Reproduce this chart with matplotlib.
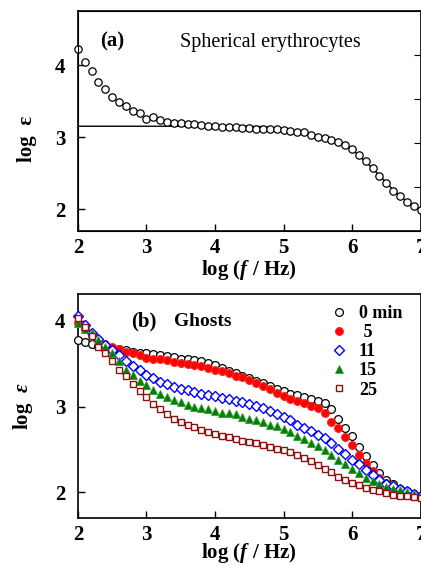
import numpy as np
import matplotlib
matplotlib.use("Agg")
import matplotlib.pyplot as plt

plt.rcParams['font.family'] = ['Liberation Serif', 'DejaVu Serif']
plt.rcParams['mathtext.fontset'] = 'custom'
plt.rcParams['mathtext.it'] = 'Liberation Serif:italic:bold'
plt.rcParams['mathtext.rm'] = 'Liberation Serif:bold'

# ---------- panel (a) data ----------
log_f_a = np.round(np.arange(2.0, 7.001, 0.1), 1)
eps_a = [4.23, 4.05, 3.92, 3.77, 3.67, 3.56, 3.49, 3.43, 3.37, 3.34,
         3.26, 3.28, 3.24, 3.21, 3.20, 3.20, 3.18, 3.18, 3.17, 3.16,
         3.155, 3.15, 3.14, 3.14, 3.13, 3.13, 3.12, 3.12, 3.11, 3.11,
         3.10, 3.09, 3.08, 3.07, 3.03, 3.01, 2.99, 2.97, 2.94, 2.89,
         2.84, 2.75, 2.67, 2.57, 2.47, 2.36, 2.26, 2.18, 2.10, 2.04, 1.99]
fit_a = [3.155] * 26 + [3.15, 3.15, 3.14, 3.13, 3.12, 3.10, 3.09, 3.07, 3.05,
                        3.02, 3.00, 2.97, 2.94, 2.89, 2.83, 2.75, 2.66, 2.57,
                        2.47, 2.37, 2.27, 2.18, 2.11, 2.05, 1.99]

# ---------- panel (b) data ----------
log_f_b = np.round(np.arange(2.0, 7.001, 0.1), 1)
eps_0 = [3.78, 3.75, 3.73, 3.71, 3.69, 3.68, 3.67, 3.66, 3.64, 3.63,
         3.63, 3.61, 3.60, 3.59, 3.58, 3.56, 3.55, 3.54, 3.53, 3.51,
         3.49, 3.45, 3.42, 3.39, 3.36, 3.33, 3.30, 3.27, 3.24, 3.21,
         3.18, 3.15, 3.13, 3.11, 3.09, 3.07, 3.04, 2.97, 2.86, 2.75,
         2.66, 2.53, 2.42, 2.32, 2.22, 2.14, 2.09, 2.04, 2.01, 1.98, 1.96]
eps_5 = [3.97, 3.90, 3.82, 3.78, 3.73, 3.70, 3.67, 3.64, 3.62, 3.60,
         3.57, 3.56, 3.55, 3.54, 3.52, 3.51, 3.50, 3.48, 3.47, 3.45,
         3.43, 3.41, 3.39, 3.36, 3.34, 3.31, 3.28, 3.24, 3.20, 3.16,
         3.12, 3.09, 3.06, 3.04, 3.01, 2.98, 2.92, 2.82, 2.75, 2.65,
         2.55, 2.44, 2.34, 2.25, 2.16, 2.11, 2.05, 2.02, 2.00, 1.98, 1.96]
eps_11 = [4.06, 3.95, 3.86, 3.79, 3.72, 3.66, 3.60, 3.53, 3.47, 3.43,
          3.37, 3.33, 3.29, 3.26, 3.23, 3.21, 3.19, 3.17, 3.15, 3.13,
          3.12, 3.10, 3.09, 3.07, 3.05, 3.03, 3.01, 2.98, 2.95, 2.91,
          2.88, 2.84, 2.79, 2.75, 2.71, 2.67, 2.63, 2.57, 2.51, 2.45,
          2.38, 2.33, 2.26, 2.20, 2.14, 2.10, 2.07, 2.04, 2.01, 1.98, 1.96]
eps_15 = [3.97, 3.90, 3.86, 3.78, 3.70, 3.62, 3.53, 3.43, 3.37, 3.30,
          3.25, 3.19, 3.15, 3.11, 3.08, 3.05, 3.02, 3.00, 2.98, 2.97,
          2.95, 2.93, 2.92, 2.91, 2.88, 2.86, 2.84, 2.82, 2.79, 2.77,
          2.74, 2.70, 2.66, 2.62, 2.58, 2.54, 2.49, 2.44, 2.38, 2.33,
          2.27, 2.22, 2.17, 2.13, 2.09, 2.06, 2.04, 2.02, 2.00, 1.98, 1.96]
eps_25 = [4.03, 3.93, 3.82, 3.70, 3.63, 3.53, 3.43, 3.36, 3.26, 3.18,
          3.11, 3.03, 2.97, 2.91, 2.86, 2.82, 2.79, 2.76, 2.73, 2.70,
          2.68, 2.66, 2.64, 2.62, 2.60, 2.59, 2.57, 2.55, 2.53, 2.51,
          2.49, 2.47, 2.44, 2.40, 2.36, 2.32, 2.27, 2.23, 2.18, 2.14,
          2.11, 2.08, 2.05, 2.03, 2.01, 1.99, 1.97, 1.96, 1.95, 1.94, 1.93]

labels_b = ["0 min", " 5", "11", "15", "25"]
x_ticks = [2, 3, 4, 5, 6, 7]
y_ticks = [2, 3, 4]
right_ticks_a = [2.31, 2.92, 3.53, 4.14]

fig = plt.figure(figsize=(4.21, 5.66), dpi=100)
axA = fig.add_axes([0.185, 0.592, 0.814, 0.389])
axB = fig.add_axes([0.185, 0.085, 0.814, 0.395])

tick_fs = 15
lab_fs = 15

def style(ax, ylab, xpad):
    ax.set_xlim(2, 7)
    ax.set_xticks(x_ticks)
    ax.set_yticks(y_ticks)
    ax.tick_params(direction='in', length=5, width=1, labelsize=tick_fs, pad=5)
    ax.tick_params(axis='y', pad=9)
    for lab in ax.get_xticklabels() + ax.get_yticklabels():
        lab.set_fontweight('bold')
    for s in ax.spines.values():
        s.set_linewidth(1.2)
    ax.set_xlabel(r'log ($f$ / Hz)', fontsize=lab_fs, fontweight='bold', labelpad=xpad)
    ax.set_ylabel(ylab, fontsize=lab_fs, fontweight='bold')

# panel (a)
axA.plot(log_f_a, fit_a, color='black', lw=1.0, zorder=2)
axA.plot(log_f_a, eps_a, 'o', ms=5.3, mfc='white', mec='black', mew=0.9, zorder=3, clip_on=False)
style(axA, 'log  ε', 0)
axA.yaxis.set_label_coords(-0.118, 0.42)
axA.set_ylim(1.70, 4.76)
axR = axA.twinx()
axR.set_ylim(1.70, 4.76)
axR.set_yticks(right_ticks_a)
axR.tick_params(direction='in', length=5, labelright=False)
axA.text(0.065, 0.86, '(a)', transform=axA.transAxes, fontsize=15, fontweight='bold', va='center')
axA.text(0.297, 0.855, 'Spherical erythrocytes', transform=axA.transAxes, fontsize=14.5, va='center')

# panel (b)
ms_b = 5.6
axB.plot(log_f_b, eps_0, 'o', ms=ms_b, mfc='white', mec='black', mew=0.9, label=labels_b[0], clip_on=False, zorder=3)
axB.plot(log_f_b, eps_5, 'o', ms=ms_b, mfc='#ff0000', mec='#ff2020', mew=0.8, label=labels_b[1], clip_on=False, zorder=4)
axB.plot(log_f_b, eps_11, 'D', ms=4.8, mfc='white', mec='#0000ff', mew=1.0, label=labels_b[2], clip_on=False, zorder=5)
axB.plot(log_f_b, eps_15, '^', ms=ms_b, mfc='#008000', mec='#3a9a3a', mew=0.6, label=labels_b[3], clip_on=False, zorder=6)
axB.plot(log_f_b, eps_25, 's', ms=5.0, mfc='white', mec='#8b1010', mew=1.0, label=labels_b[4], clip_on=False, zorder=7)
style(axB, r'log  $\varepsilon$', -2.5)
axB.yaxis.set_label_coords(-0.125, 0.5)
axB.set_ylim(1.70, 4.31)
axB.text(0.155, 0.88, '(b)', transform=axB.transAxes, fontsize=15, fontweight='bold', va='center')
axB.text(0.28, 0.88, 'Ghosts', transform=axB.transAxes, fontsize=14, fontweight='bold', va='center')
leg = axB.legend(loc='upper left', bbox_to_anchor=(0.72, 0.985), frameon=False,
                 handlelength=0.8, handletextpad=0.7, labelspacing=0.12,
                 prop={'family': 'Liberation Serif', 'weight': 'bold', 'size': 13},
                 borderaxespad=0.0)

fig.savefig('out.png', dpi=100)
